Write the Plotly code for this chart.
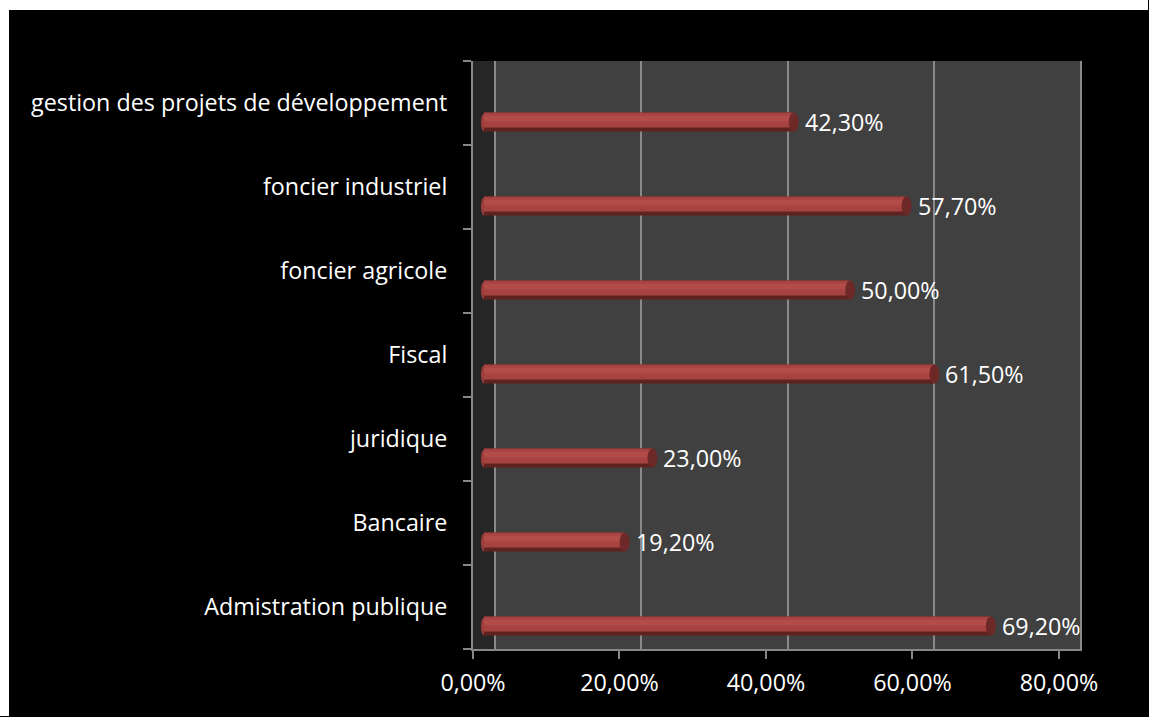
import plotly.graph_objects as go

# Categories listed bottom to top, as they stack on the category axis
categories = [
    "Admistration publique",
    "Bancaire",
    "juridique",
    "Fiscal",
    "foncier agricole",
    "foncier industriel",
    "gestion des projets de développement",
]
values = [69.2, 19.2, 23.0, 61.5, 50.0, 57.7, 42.3]
tick_values = [0, 20, 40, 60, 80]
tick_labels = ["0,00%", "20,00%", "40,00%", "60,00%", "80,00%"]


def fr_pct(v):
    return f"{v:.2f}".replace(".", ",") + "%"


# ---- page geometry (pixels) ----
W, H = 1149, 717
L, R, T, B = 473, 67, 61, 68
plot_w = W - L - R
plot_h = H - T - B
band_px = plot_h / len(categories)

FONT = "Open Sans"
TEXT_SIZE = 23.3
AXIS_GRAY = "#878787"
GRID_GRAY = "#8a8a8a"
WALL = "#404040"
SIDE_WALL = "#262626"

# depth of the 3-D effect, in axis units (back wall / cylinder axis)
WALL_SHIFT = 3.0
BAR_SHIFT = 1.5
X_MAX = 80.15

# cylinder geometry, pixels
bar_drop = 19      # cylinder axis sits below the category centre (3-D depth)
bar_thick = 19


def unit(px):
    return px / band_px


bar_top = -unit(bar_drop) + unit(bar_thick / 2)

# shading bands of the cylinder: (from px, to px below top edge, colour)
shade_bands = [
    (0, 19, "#5e2321"),
    (0, 15, "#a6423f"),
    (3, 9, "#b24c49"),
]

fig = go.Figure()

# invisible carriers so the tick axis and the back-wall grid axis are laid out
fig.add_trace(go.Scatter(x=values, y=categories, mode="none", xaxis="x", yaxis="y",
                         hoverinfo="skip", showlegend=False))
fig.add_trace(go.Scatter(x=values, y=categories, mode="none", xaxis="x2", yaxis="y",
                         hoverinfo="skip", showlegend=False))

for t0, t1, col in shade_bands:
    fig.add_trace(go.Bar(
        orientation="h",
        x=values,
        y=categories,
        xaxis="x3",
        yaxis="y",
        offset=bar_top - unit(t1),
        width=unit(t1 - t0),
        marker=dict(color=col, line=dict(width=0)),
        hoverinfo="skip",
        showlegend=False,
    ))

shapes = []
# dark side wall between the front axis and the back wall
shapes.append(dict(type="rect", xref="x2", yref="paper", x0=-WALL_SHIFT, x1=0, y0=0, y1=1,
                   fillcolor=SIDE_WALL, line=dict(width=0), layer="below"))

for cat, v in zip(categories, values):
    # rounded back end of each cylinder
    shapes.append(dict(type="circle", xref="x3", yref="y",
                       xsizemode="pixel", ysizemode="pixel",
                       xanchor=0, yanchor=cat,
                       x0=-3, x1=3,
                       y0=-bar_drop - bar_thick / 2, y1=-bar_drop + bar_thick / 2 - 1,
                       fillcolor="#9c3e3b", line=dict(width=0), layer="below"))
    # flat front face of each cylinder
    shapes.append(dict(type="circle", xref="x3", yref="y",
                       xsizemode="pixel", ysizemode="pixel",
                       xanchor=v, yanchor=cat,
                       x0=-5, x1=5,
                       y0=-bar_drop - bar_thick / 2, y1=-bar_drop + bar_thick / 2,
                       fillcolor="#6c2927", line=dict(width=0), layer="above"))


# white frame along the top and left edge of the picture
def px_to_paper_x(px):
    return (px - L) / plot_w


def px_to_paper_y(py):
    return (H - B - py) / plot_h


EDGE = 1  # keep the frame strips just inside the page
shapes.append(dict(type="rect", xref="paper", yref="paper",
                   x0=px_to_paper_x(0), x1=px_to_paper_x(W - EDGE),
                   y0=px_to_paper_y(10), y1=px_to_paper_y(0),
                   fillcolor="white", line=dict(width=0), layer="above"))
shapes.append(dict(type="rect", xref="paper", yref="paper",
                   x0=px_to_paper_x(0), x1=px_to_paper_x(9),
                   y0=px_to_paper_y(H - EDGE), y1=px_to_paper_y(0),
                   fillcolor="white", line=dict(width=0), layer="above"))

annotations = []
for cat, v in zip(categories, values):
    annotations.append(dict(
        xref="x3", yref="y", x=v, y=cat,
        text=fr_pct(v), showarrow=False,
        xanchor="left", yanchor="middle",
        xshift=9, yshift=-bar_drop,
        font=dict(family=FONT, size=TEXT_SIZE, color="white"),
    ))

fig.update_layout(
    width=W, height=H,
    margin=dict(l=L, r=R, t=T, b=B, pad=0),
    paper_bgcolor="black",
    plot_bgcolor=WALL,
    barmode="overlay",
    showlegend=False,
    font=dict(family=FONT, size=TEXT_SIZE, color="white"),
    xaxis=dict(
        range=[0, X_MAX + WALL_SHIFT],
        tickvals=tick_values, ticktext=tick_labels,
        ticks="outside", ticklen=8, tickwidth=2, tickcolor=AXIS_GRAY,
        showline=True, linecolor=AXIS_GRAY, linewidth=2,
        showgrid=False, zeroline=False,
        tickfont=dict(family=FONT, size=TEXT_SIZE, color="white"),
        ticklabelstandoff=4,
        fixedrange=True,
    ),
    xaxis2=dict(
        overlaying="x", anchor="y",
        range=[-WALL_SHIFT, X_MAX],
        tickvals=tick_values,
        showgrid=True, gridcolor=GRID_GRAY, gridwidth=2,
        showticklabels=False, ticks="", zeroline=False, showline=False,
        fixedrange=True,
    ),
    xaxis3=dict(
        overlaying="x", anchor="y",
        range=[-BAR_SHIFT, X_MAX + WALL_SHIFT - BAR_SHIFT],
        visible=False,
        fixedrange=True,
    ),
    yaxis=dict(
        type="category",
        categoryorder="array", categoryarray=categories,
        range=[-0.5, len(categories) - 0.5],
        tickson="boundaries",
        ticks="outside", ticklen=8, tickwidth=2, tickcolor=AXIS_GRAY,
        showline=True, linecolor=AXIS_GRAY, linewidth=2,
        showgrid=False, zeroline=False,
        tickfont=dict(family=FONT, size=TEXT_SIZE, color="white"),
        ticklabelstandoff=19,
        fixedrange=True,
    ),
    shapes=shapes,
    annotations=annotations,
)

fig.write_html("out.html", config={"displayModeBar": False})
